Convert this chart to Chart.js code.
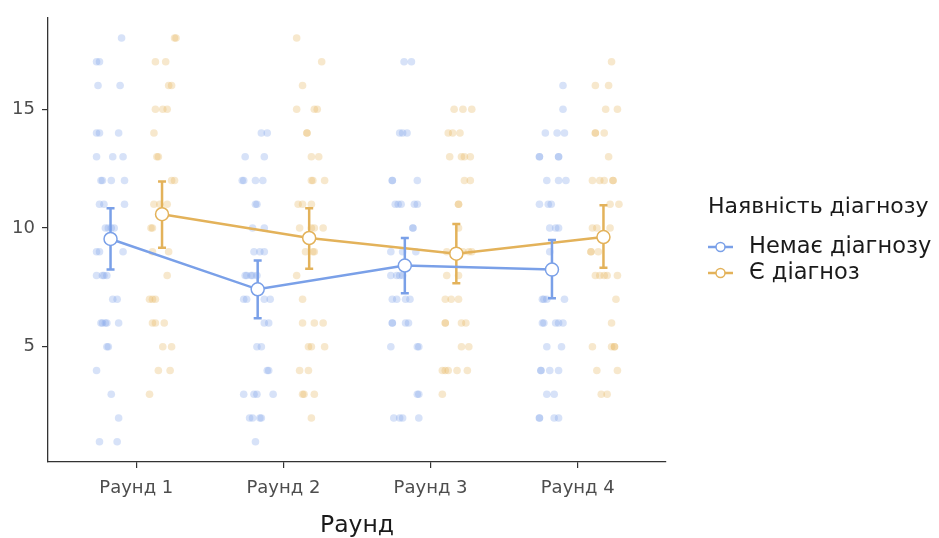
<!DOCTYPE html>
<html>
<head>
<meta charset="utf-8">
<script src="https://cdn.jsdelivr.net/npm/chart.js@4"></script>
<style>
  html, body { margin: 0; padding: 0; background: #fff; }
  #wrap { width: 939px; height: 538px; }
</style>
</head>
<body>
<div id="wrap"><canvas id="chart" width="939" height="538"></canvas></div>
<script>
// categories and ticks
const rounds = [1, 2, 3, 4];
const roundLabels = ['Раунд 1', 'Раунд 2', 'Раунд 3', 'Раунд 4'];
const yTicks = [5, 10, 15];
const groupNames = ['Немає діагнозу', 'Є діагноз'];
const dodge = 0.175;

// means and error bar limits
const noDiagMean = [9.54, 7.42, 8.42, 8.25];
const noDiagLow = [8.25, 6.20, 7.25, 7.04];
const noDiagHigh = [10.83, 8.63, 9.58, 9.50];
const diagMean = [10.58, 9.58, 8.92, 9.62];
const diagLow = [9.17, 8.29, 7.67, 8.33];
const diagHigh = [11.96, 10.83, 10.17, 10.96];

// jittered raw points [x, y]
const noDiagR1 = [[0.90,18],[0.73,17],[0.75,17],[0.74,16],[0.89,16],[0.73,14],[0.75,14],[0.88,14],
  [0.73,13],[0.84,13],[0.91,13],[0.76,12],[0.77,12],[0.83,12],[0.92,12],[0.75,11],[0.78,11],[0.92,11],
  [0.79,10],[0.81,10],[0.83,10],[0.85,10],[0.73,9],[0.75,9],[0.91,9],[0.73,8],[0.77,8],[0.78,8],[0.80,8],
  [0.84,7],[0.87,7],[0.76,6],[0.77,6],[0.79,6],[0.80,6],[0.88,6],[0.80,5],[0.81,5],
  [0.73,4],[0.83,3],[0.88,2],[0.75,1],[0.87,1]];
const noDiagR2 = [[1.85,14],[1.89,14],[1.74,13],[1.87,13],[1.72,12],[1.73,12],[1.81,12],[1.86,12],
  [1.81,11],[1.82,11],[1.79,10],[1.87,10],[1.80,9],[1.84,9],[1.87,9],
  [1.74,8],[1.75,8],[1.78,8],[1.79,8],[1.82,8],[1.73,7],[1.75,7],[1.87,7],[1.91,7],
  [1.87,6],[1.90,6],[1.82,5],[1.85,5],[1.89,4],[1.90,4],[1.73,3],[1.80,3],[1.82,3],[1.93,3],
  [1.77,2],[1.79,2],[1.84,2],[1.85,2],[1.81,1]];
const noDiagR3 = [[2.82,17],[2.87,17],[2.79,14],[2.81,14],[2.84,14],[2.74,12],[2.74,12],[2.91,12],
  [2.76,11],[2.78,11],[2.80,11],[2.89,11],[2.91,11],[2.88,10],[2.88,10],[2.73,9],[2.81,9],[2.90,9],
  [2.73,8],[2.77,8],[2.79,8],[2.81,8],[2.74,7],[2.77,7],[2.83,7],[2.86,7],
  [2.74,6],[2.74,6],[2.83,6],[2.85,6],[2.73,5],[2.91,5],[2.92,5],[2.91,3],[2.92,3],
  [2.75,2],[2.79,2],[2.81,2],[2.92,2]];
const noDiagR4 = [[3.90,16],[3.90,15],[3.78,14],[3.86,14],[3.91,14],[3.74,13],[3.74,13],[3.87,13],[3.87,13],
  [3.79,12],[3.87,12],[3.92,12],[3.74,11],[3.80,11],[3.82,11],[3.81,10],[3.85,10],[3.87,10],[3.81,9],
  [3.76,7],[3.77,7],[3.79,7],[3.91,7],[3.76,6],[3.77,6],[3.85,6],[3.87,6],[3.90,6],[3.79,5],[3.89,5],
  [3.75,4],[3.75,4],[3.81,4],[3.87,4],[3.79,3],[3.84,3],[3.74,2],[3.74,2],[3.84,2],[3.87,2]];

const diagR1 = [[1.26,18],[1.27,18],[1.13,17],[1.20,17],[1.22,16],[1.24,16],[1.13,15],[1.18,15],[1.21,15],
  [1.12,14],[1.14,13],[1.15,13],[1.24,12],[1.26,12],[1.12,11],[1.16,11],[1.21,11],[1.10,10],[1.11,10],
  [1.11,9],[1.22,9],[1.21,8],[1.09,7],[1.11,7],[1.13,7],[1.11,6],[1.13,6],[1.19,6],
  [1.18,5],[1.24,5],[1.15,4],[1.23,4],[1.09,3]];
const diagR2 = [[2.09,18],[2.26,17],[2.13,16],[2.09,15],[2.21,15],[2.23,15],[2.16,14],[2.16,14],
  [2.19,13],[2.24,13],[2.19,12],[2.20,12],[2.28,12],[2.10,11],[2.13,11],[2.19,11],
  [2.11,10],[2.19,10],[2.21,10],[2.27,10],[2.15,9],[2.20,9],[2.21,9],[2.09,8],[2.13,7],
  [2.13,6],[2.21,6],[2.27,6],[2.17,5],[2.19,5],[2.28,5],[2.11,4],[2.17,4],
  [2.13,3],[2.14,3],[2.21,3],[2.19,2]];
const diagR3 = [[3.16,15],[3.22,15],[3.28,15],[3.12,14],[3.15,14],[3.20,14],
  [3.13,13],[3.21,13],[3.23,13],[3.27,13],[3.23,12],[3.27,12],[3.19,11],[3.19,11],[3.19,10],
  [3.11,9],[3.22,9],[3.26,9],[3.28,9],[3.11,8],[3.19,8],[3.10,7],[3.14,7],[3.19,7],
  [3.10,6],[3.10,6],[3.21,6],[3.24,6],[3.21,5],[3.26,5],
  [3.08,4],[3.10,4],[3.12,4],[3.18,4],[3.25,4],[3.08,3]];
const diagR4 = [[4.23,17],[4.12,16],[4.21,16],[4.19,15],[4.27,15],[4.12,14],[4.12,14],[4.18,14],[4.21,13],
  [4.10,12],[4.15,12],[4.18,12],[4.24,12],[4.24,12],[4.22,11],[4.28,11],[4.10,10],[4.13,10],[4.22,10],
  [4.09,9],[4.09,9],[4.14,9],[4.12,8],[4.15,8],[4.18,8],[4.20,8],[4.27,8],[4.26,7],[4.23,6],
  [4.10,5],[4.23,5],[4.25,5],[4.25,5],[4.13,4],[4.27,4],[4.16,3],[4.20,3]];

const blue = '#7aa0e8';
const gold = '#e3b25a';
const FONT = "'DejaVu Sans', sans-serif";

function toXY(arr) { return arr.map(p => ({x: p[0], y: p[1]})); }
function meanXY(means, off) { return means.map((m, i) => ({x: rounds[i] + off, y: m})); }

// error bars: drawn just before the mean line of each group
const errorBars = {
  id: 'errorBars',
  beforeDatasetDraw(chart, args) {
    const ds = chart.data.datasets[args.index];
    if (!ds.errLow) return;
    const ctx = chart.ctx, xs = chart.scales.x, ys = chart.scales.y;
    ctx.save();
    ctx.strokeStyle = ds.borderColor;
    ctx.lineWidth = 2.5;
    ds.data.forEach((p, i) => {
      const px = xs.getPixelForValue(p.x);
      const lo = ys.getPixelForValue(ds.errLow[i]);
      const hi = ys.getPixelForValue(ds.errHigh[i]);
      ctx.beginPath();
      ctx.moveTo(px, lo); ctx.lineTo(px, hi);
      ctx.moveTo(px - 4, lo); ctx.lineTo(px + 4, lo);
      ctx.moveTo(px - 4, hi); ctx.lineTo(px + 4, hi);
      ctx.stroke();
    });
    ctx.restore();
  }
};

// ggplot style legend on the right
const sideLegend = {
  id: 'sideLegend',
  afterDraw(chart) {
    const ctx = chart.ctx;
    const x0 = chart.chartArea.right + 42;
    ctx.save();
    ctx.textBaseline = 'middle';
    ctx.textAlign = 'left';
    ctx.fillStyle = '#1a1a1a';
    ctx.font = '22px ' + FONT;
    ctx.fillText('Наявність діагнозу', x0, 207);
    ctx.font = '22.5px ' + FONT;
    const cols = [blue, gold];
    groupNames.forEach((name, i) => {
      const y = 247 + i * 26;
      ctx.strokeStyle = cols[i];
      ctx.lineWidth = 2.5;
      ctx.beginPath();
      ctx.moveTo(x0, y); ctx.lineTo(x0 + 25, y);
      ctx.stroke();
      ctx.beginPath();
      ctx.arc(x0 + 12.5, y, 4.5, 0, Math.PI * 2);
      ctx.fillStyle = '#fff';
      ctx.fill();
      ctx.lineWidth = 1.5;
      ctx.stroke();
      ctx.fillStyle = '#1a1a1a';
      ctx.fillText(name, x0 + 41, y);
    });
    ctx.restore();
  }
};

new Chart(document.getElementById('chart'), {
  type: 'scatter',
  data: {
    datasets: [
      {
        label: groupNames[0] + ' mean', type: 'line', data: meanXY(noDiagMean, -dodge),
        errLow: noDiagLow, errHigh: noDiagHigh,
        borderColor: blue, borderWidth: 2.5, pointRadius: 6.5, pointBorderWidth: 1.5,
        pointBackgroundColor: '#fff', pointBorderColor: blue, order: 1
      },
      {
        label: groupNames[1] + ' mean', type: 'line', data: meanXY(diagMean, dodge),
        errLow: diagLow, errHigh: diagHigh,
        borderColor: gold, borderWidth: 2.5, pointRadius: 6.5, pointBorderWidth: 1.5,
        pointBackgroundColor: '#fff', pointBorderColor: gold, order: 1
      },
      {
        label: groupNames[0], data: toXY([].concat(noDiagR1, noDiagR2, noDiagR3, noDiagR4)),
        backgroundColor: 'rgba(122,160,232,0.3)', borderWidth: 0, pointRadius: 3.8, order: 3
      },
      {
        label: groupNames[1], data: toXY([].concat(diagR1, diagR2, diagR3, diagR4)),
        backgroundColor: 'rgba(227,178,90,0.3)', borderWidth: 0, pointRadius: 3.8, order: 2
      }
    ]
  },
  options: {
    responsive: false,
    animation: false,
    events: [],
    layout: { padding: { top: 15, right: 273, left: 0, bottom: 0 } },
    plugins: { legend: { display: false }, tooltip: { enabled: false } },
    scales: {
      x: {
        type: 'linear', min: 0.4, max: 4.6,
        afterBuildTicks: s => { s.ticks = rounds.map(v => ({value: v})); },
        afterFit: s => { s.height = 76; },
        grid: { display: true, drawOnChartArea: false, drawTicks: true, tickLength: 6, color: '#333', lineWidth: 1.2 },
        border: { display: true, color: '#333', width: 1.3 },
        ticks: {
          color: '#4d4d4d', padding: 10, maxRotation: 0,
          font: { family: FONT, size: 18 },
          callback: (v) => roundLabels[rounds.indexOf(v)]
        },
        title: {
          display: true, text: 'Раунд', color: '#1a1a1a',
          font: { family: FONT, size: 23.5, lineHeight: 1 }, padding: { top: 0, bottom: 0 }
        }
      },
      y: {
        min: 0.15, max: 18.85,
        afterBuildTicks: s => { s.ticks = yTicks.map(v => ({value: v})); },
        afterFit: s => { s.width = 48; },
        grid: { display: true, drawOnChartArea: false, drawTicks: true, tickLength: 6, color: '#333', lineWidth: 1.2 },
        border: { display: true, color: '#333', width: 1.3 },
        ticks: { color: '#4d4d4d', padding: 7, font: { family: FONT, size: 18 } }
      }
    }
  },
  plugins: [errorBars, sideLegend]
});
</script>
</body>
</html>
